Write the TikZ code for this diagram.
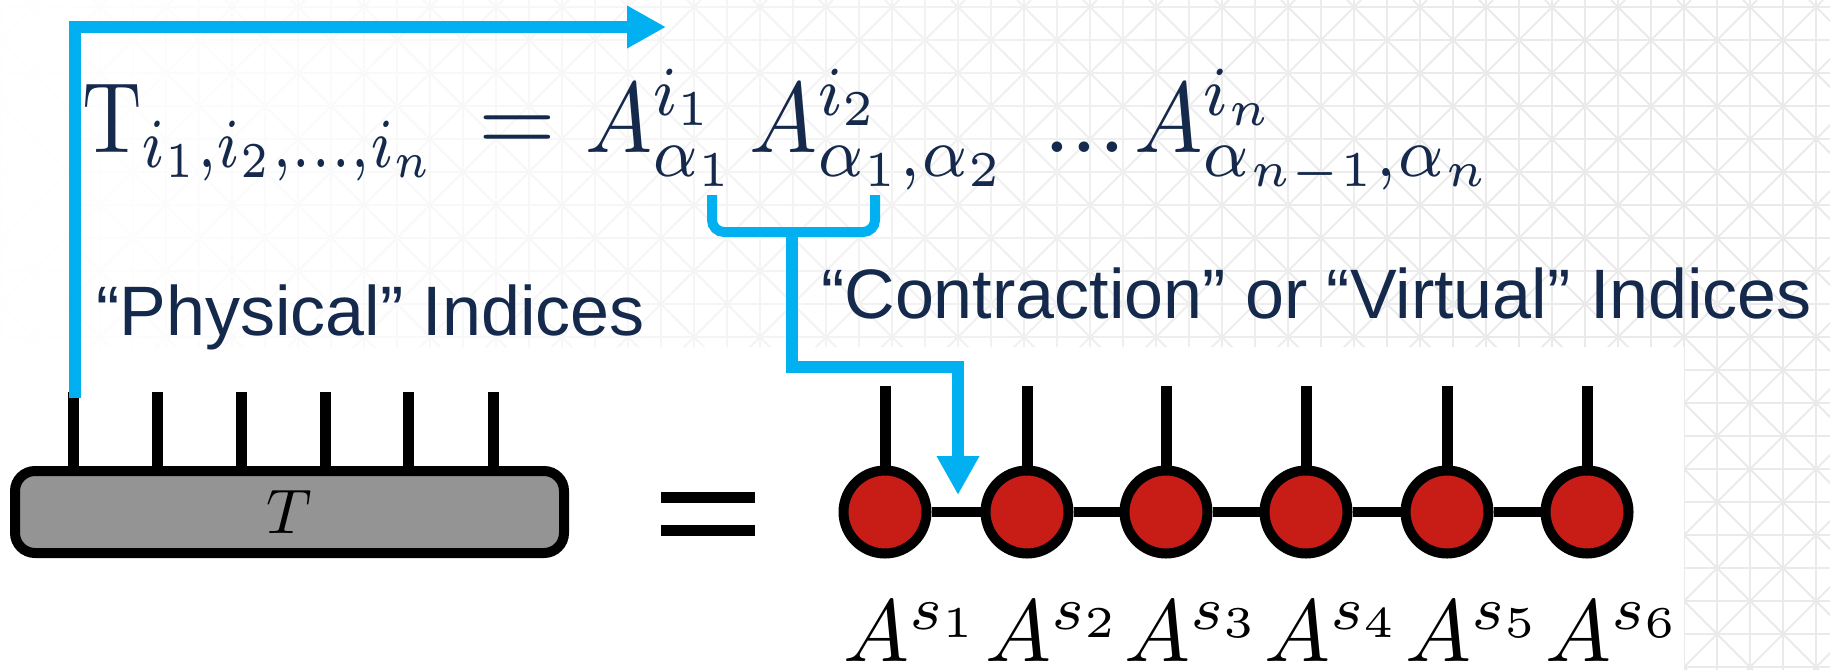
\documentclass[tikz,border=0pt]{standalone}
\usepackage{graphicx}
\usepackage{fontspec}
\newfontfamily\arialfont{Liberation Sans}
\usetikzlibrary{arrows.meta,fadings}
\definecolor{navy}{HTML}{14294B}
\definecolor{skyblue}{HTML}{00B0F0}
\definecolor{mpsred}{HTML}{C81C16}
\definecolor{tgray}{HTML}{949494}
\definecolor{gridgray}{HTML}{EAEAEA}
\tikzfading[name=fadeleft, left color=transparent!0, right color=transparent!100]
\newcommand{\fsc}[1]{\scalebox{10}{$#1$}}
\newcommand{\fwd}[2]{\resizebox{#1}{10\height}{$#2$}}
\newcommand{\lsc}[1]{\scalebox{8.8}{$#1$}}
\begin{document}
\begin{tikzpicture}[x=1pt,y=-1pt,
  gridline/.style={draw=gridgray, line width=1.8pt},
  formula/.style={text=navy, inner sep=0pt, anchor=base west},
  lbl/.style={text=navy, font=\arialfont\fontsize{70}{84}\selectfont, inner sep=0pt, anchor=base west},
  bluearrow/.style={draw=skyblue, line width=12pt, -{Triangle[length=39pt,width=40pt]}},
  bracket/.style={draw=skyblue, line width=10pt, rounded corners=12pt},
  tensor/.style={draw=black, line width=10pt, fill=tgray, rounded corners=20pt,
    minimum width=549pt, minimum height=82pt, inner sep=0pt},
  leg/.style={draw=black, line width=11pt},
  link/.style={draw=black, line width=10pt},
  site/.style={circle, draw=black, line width=10pt, fill=mpsred, minimum size=83pt, inner sep=0pt},
  mpslabel/.style={anchor=base west, inner sep=0pt},
  eqbar/.style={fill=black, minimum width=94pt, minimum height=11pt, inner sep=0pt}
]
\fill[white] (0,0) rectangle (1830,670);
\useasboundingbox (0,0) rectangle (1830,670);

% faint background pattern
\begin{scope}
  \clip (0,0) rectangle (1830,347) (1684,347) rectangle (1830,670);
  \foreach \k in {0,...,55} \draw[gridline] ({1+33*\k},0) -- ({1+33*\k},670);
  \foreach \k in {0,...,20} \draw[gridline] (0,{7+33*\k}) -- (1830,{7+33*\k});
  \foreach \k in {0,...,38} \draw[gridline] ({41+66*\k},0) -- ({41+66*\k-670},670);
  \foreach \k in {-11,...,28} \draw[gridline] ({27+66*\k},0) -- ({27+66*\k+670},670);
\end{scope}
\fill[white, path fading=fadeleft] (0,0) rectangle (1500,347);

% formula
\node[formula] (fT) at (82,152) {\fwd{356pt}{\mathrm{T}_{i_1,i_2,\ldots,i_n}}};
\node[formula] (feq) at (478,152) {\fsc{=}};
\node[formula] (fA1) at (585,152) {\fwd{153pt}{A^{i_1}_{\alpha_1}}};
\node[formula] (fA2) at (749,152) {\fwd{259pt}{A^{i_2}_{\alpha_1,\alpha_2}}};
\node[formula] (fdots) at (1043,152) {\fsc{...}};
\node[formula] (fAn) at (1134,152) {\fwd{360pt}{A^{i_n}_{\alpha_{n-1},\alpha_n}}};

% labels
\node[lbl] (phys) at (96,335) {“Physical” Indices};
\node[lbl] (contr) at (821,318) {“Contraction” or “Virtual” Indices};

% tensor T
\node[tensor] (T) at (289.5,512) {\scalebox{6.3}{$T$}};
\foreach \x [count=\i] in {73,157,241,325,408,493} {
  \coordinate (tleg\i) at (\x,392);
  \draw[leg] (tleg\i) -- (tleg\i |- T.north);
}

% equals sign
\node[eqbar] (eqa) at (708,497.5) {};
\node[eqbar] (eqb) at (708,530) {};

% MPS chain
\foreach \x [count=\i] in {885,1027,1166,1306,1447,1587} {
  \node[site] (s\i) at (\x,512) {};
  \coordinate (sl\i) at (\x,386);
  \draw[leg] (sl\i) -- (s\i.north);
  \node[mpslabel] (lab\i) at (\x-42,661) {\lsc{A^{s_\i}}};
}
\foreach \i/\j in {1/2,2/3,3/4,4/5,5/6} \draw[link] (s\i.east) -- (s\j.west);

% physical arrow
\coordinate (pstart) at (75,398);
\coordinate (ptip) at (666,27);
\draw[bluearrow] (pstart) |- (ptip);

% contraction bracket and arrow
\coordinate (brL) at (712,195);
\coordinate (brR) at (875,195);
\coordinate (brC) at (792,232);
\coordinate (cbend) at (958,367);
\coordinate (ctip) at (958,495);
\draw[bracket] (brL) -- (712,232) -- (875,232) -- (brR);
\draw[bluearrow] (brC) |- (cbend) -- (ctip);
\end{tikzpicture}
\end{document}
